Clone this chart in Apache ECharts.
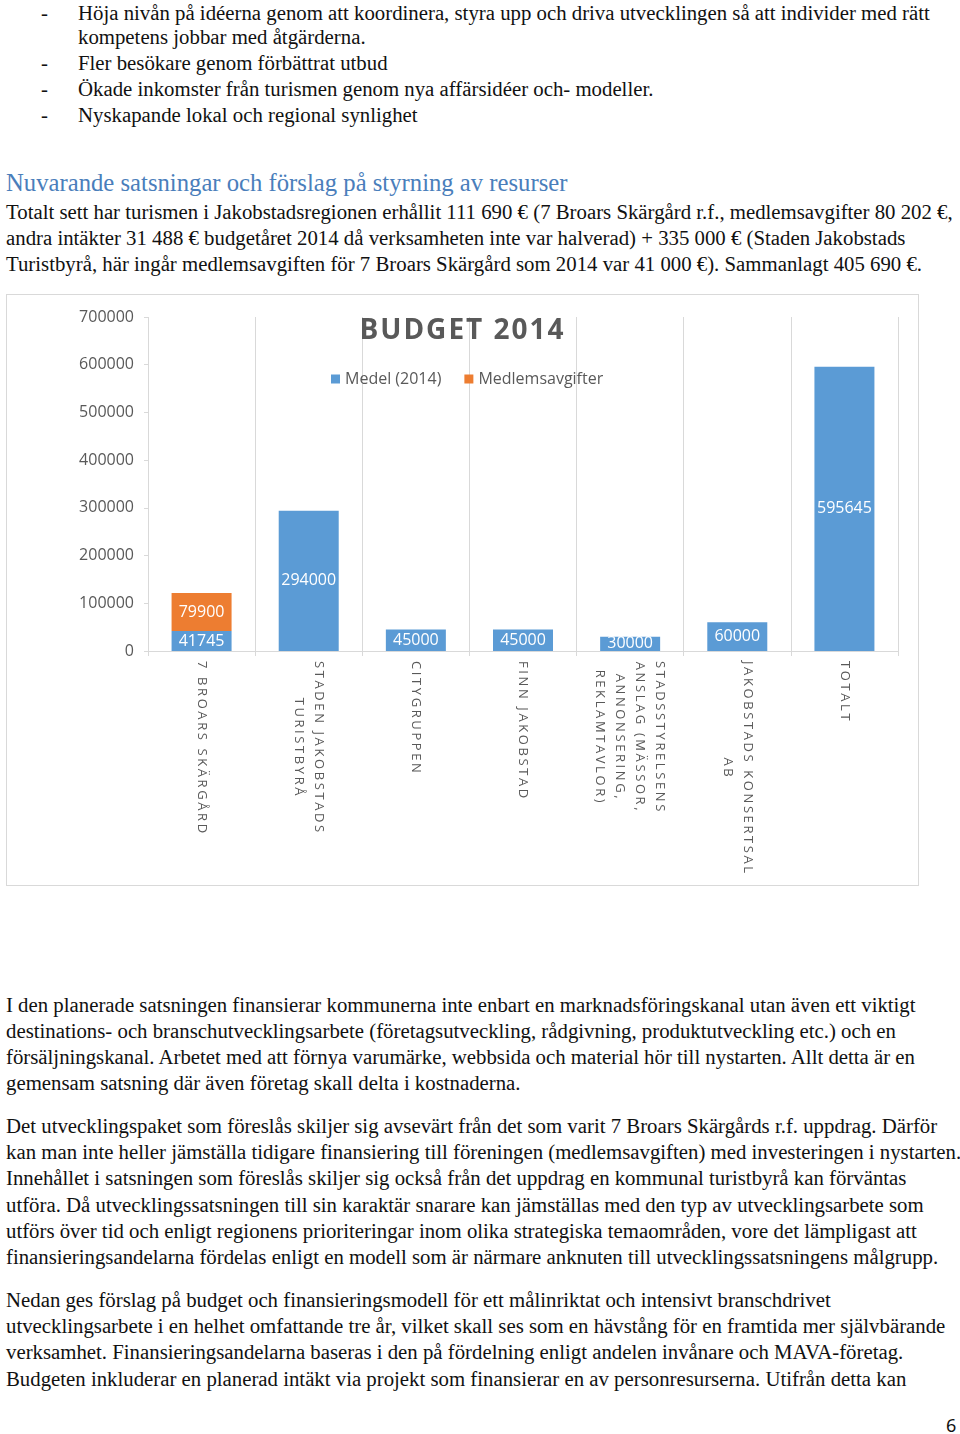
<!DOCTYPE html>
<html>
<head>
<meta charset="utf-8">
<script src="https://cdn.jsdelivr.net/npm/echarts@6/dist/echarts.min.js"></script>
<style>
  html, body { margin: 0; padding: 0; background: #fff; }
  body { width: 960px; height: 1434px; position: relative; overflow: hidden;
         font-family: "Liberation Serif", "DejaVu Serif", serif; color: #111; }
  .ln { position: absolute; height: 26px; line-height: 26px; font-size: 20.8px; white-space: nowrap; }
  .h { font-size: 24.7px; color: #4a7ebb; height: 30px; line-height: 30px; }
  .pg { font-family: "Noto Sans", sans-serif; font-size: 18px; }
  #chart { position: absolute; left: 6px; top: 294px; width: 913px; height: 592px;
           box-sizing: border-box; border: 1px solid #d9d9d9; }
</style>
</head>
<body>
<div class="ln" style="left:41px;top:0px">-</div>
<div class="ln" style="left:78px;top:0px">Höja nivån på idéerna genom att koordinera, styra upp och driva utvecklingen så att individer med rätt</div>
<div class="ln" style="left:78px;top:24px">kompetens jobbar med åtgärderna.</div>
<div class="ln" style="left:41px;top:50px">-</div>
<div class="ln" style="left:78px;top:50px">Fler besökare genom förbättrat utbud</div>
<div class="ln" style="left:41px;top:76px">-</div>
<div class="ln" style="left:78px;top:76px">Ökade inkomster från turismen genom nya affärsidéer och- modeller.</div>
<div class="ln" style="left:41px;top:102px">-</div>
<div class="ln" style="left:78px;top:102px">Nyskapande lokal och regional synlighet</div>

<div class="ln h" style="left:6px;top:168px">Nuvarande satsningar och förslag på styrning av resurser</div>
<div class="ln" style="left:6px;top:199px">Totalt sett har turismen i Jakobstadsregionen erhållit 111 690 € (7 Broars Skärgård r.f., medlemsavgifter 80 202 €,</div>
<div class="ln" style="left:6px;top:225px">andra intäkter 31 488 € budgetåret 2014 då verksamheten inte var halverad) + 335 000 € (Staden Jakobstads</div>
<div class="ln" style="left:6px;top:251px">Turistbyrå, här ingår medlemsavgiften för 7 Broars Skärgård som 2014 var 41 000 €). Sammanlagt 405 690 €.</div>

<div id="chart"></div>

<div class="ln" style="left:6px;top:992px">I den planerade satsningen finansierar kommunerna inte enbart en marknadsföringskanal utan även ett viktigt</div>
<div class="ln" style="left:6px;top:1018px">destinations- och branschutvecklingsarbete (företagsutveckling, rådgivning, produktutveckling etc.) och en</div>
<div class="ln" style="left:6px;top:1044px">försäljningskanal. Arbetet med att förnya varumärke, webbsida och material hör till nystarten. Allt detta är en</div>
<div class="ln" style="left:6px;top:1070px">gemensam satsning där även företag skall delta i kostnaderna.</div>

<div class="ln" style="left:6px;top:1113px">Det utvecklingspaket som föreslås skiljer sig avsevärt från det som varit 7 Broars Skärgårds r.f. uppdrag. Därför</div>
<div class="ln" style="left:6px;top:1139px">kan man inte heller jämställa tidigare finansiering till föreningen (medlemsavgiften) med investeringen i nystarten.</div>
<div class="ln" style="left:6px;top:1165px">Innehållet i satsningen som föreslås skiljer sig också från det uppdrag en kommunal turistbyrå kan förväntas</div>
<div class="ln" style="left:6px;top:1192px">utföra. Då utvecklingssatsningen till sin karaktär snarare kan jämställas med den typ av utvecklingsarbete som</div>
<div class="ln" style="left:6px;top:1218px">utförs över tid och enligt regionens prioriteringar inom olika strategiska temaområden, vore det lämpligast att</div>
<div class="ln" style="left:6px;top:1244px">finansieringsandelarna fördelas enligt en modell som är närmare anknuten till utvecklingssatsningens målgrupp.</div>

<div class="ln" style="left:6px;top:1287px">Nedan ges förslag på budget och finansieringsmodell för ett målinriktat och intensivt branschdrivet</div>
<div class="ln" style="left:6px;top:1313px">utvecklingsarbete i en helhet omfattande tre år, vilket skall ses som en hävstång för en framtida mer självbärande</div>
<div class="ln" style="left:6px;top:1339px">verksamhet. Finansieringsandelarna baseras i den på fördelning enligt andelen invånare och MAVA-företag.</div>
<div class="ln" style="left:6px;top:1366px">Budgeten inkluderar en planerad intäkt via projekt som finansierar en av personresurserna. Utifrån detta kan</div>

<div class="ln pg" style="left:946px;top:1412px">6</div>

<script>
const categories = [
  '7 BROARS SKÄRGÅRD',
  'STADEN JAKOBSTADS\nTURISTBYRÅ',
  'CITYGRUPPEN',
  'FINN JAKOBSTAD',
  'STADSSTYRELSENS\nANSLAG (MÄSSOR,\nANNONSERING,\nREKLAMTAVLOR)',
  'JAKOBSTADS KONSERTSAL\nAB',
  'TOTALT'
];
const medel2014 = [41745, 294000, 45000, 45000, 30000, 60000, 595645];
const medlemsavgifter = [79900, null, null, null, null, null, null];
const yTicks = { min: 0, max: 700000, interval: 100000 };

// letter spacing for the chart's spaced texts (title, category labels),
// applied both when drawing and when measuring so the layout stays consistent
const SPACING = { lsx: '2.6px', lst: '2px' };
function spacingFor(font) {
  for (const k in SPACING) if (font && font.indexOf(k) >= 0) return SPACING[k];
  return '0px';
}
[window.CanvasRenderingContext2D, window.OffscreenCanvasRenderingContext2D].forEach(C => {
  if (!C) return;
  ['fillText', 'strokeText', 'measureText'].forEach(fn => {
    const orig = C.prototype[fn];
    C.prototype[fn] = function () {
      const prev = this.letterSpacing;
      this.letterSpacing = spacingFor(this.font);
      const r = orig.apply(this, arguments);
      this.letterSpacing = prev;
      return r;
    };
  });
});

const gray = '#595959';
const chart = echarts.init(document.getElementById('chart'), null, { renderer: 'canvas' });
chart.setOption({
  animation: false,
  textStyle: { fontFamily: '"Open Sans", sans-serif' },
  title: {
    text: 'BUDGET 2014',
    left: 'center',
    top: 16,
    textStyle: { fontSize: 28, fontWeight: 'bold', color: gray, fontFamily: '"Open Sans", lst, sans-serif' }
  },
  legend: {
    top: 71,
    left: 319,
    itemWidth: 9,
    itemHeight: 9,
    itemGap: 23,
    icon: 'rect',
    textStyle: { fontSize: 16, color: gray },
    data: ['Medel (2014)', 'Medlemsavgifter']
  },
  grid: { left: 141, top: 22, width: 750, height: 334, containLabel: false },
  xAxis: {
    type: 'category',
    data: categories,
    axisLine: { lineStyle: { color: '#d9d9d9' } },
    axisTick: { show: true, length: 5, lineStyle: { color: '#d9d9d9' } },
    splitLine: { show: true, lineStyle: { color: '#d9d9d9' } },
    axisLabel: {
      rotate: -90,
      interval: 0,
      margin: 10,
      color: gray,
      fontSize: 13,
      lineHeight: 20,
      fontFamily: '"Open Sans", lsx, sans-serif',
      formatter: v => v.split('\n').map(s => '{c|' + s + '}').join('\n'),
      rich: { c: { align: 'center', fontSize: 13, lineHeight: 20, color: gray, fontFamily: '"Open Sans", lsx, sans-serif' } }
    }
  },
  yAxis: {
    type: 'value',
    min: yTicks.min, max: yTicks.max, interval: yTicks.interval,
    axisLine: { show: false },
    axisTick: { show: true, length: 4, lineStyle: { color: '#d9d9d9' } },
    splitLine: { show: false },
    axisLabel: { color: gray, fontSize: 16, margin: 14, formatter: v => String(v) }
  },
  series: [
    {
      name: 'Medel (2014)', type: 'bar', stack: 'a', barWidth: '56%',
      data: medel2014,
      itemStyle: { color: '#5b9bd5' },
      label: { show: true, position: 'inside', color: '#fff', fontSize: 16 }
    },
    {
      name: 'Medlemsavgifter', type: 'bar', stack: 'a', barWidth: '56%',
      data: medlemsavgifter,
      itemStyle: { color: '#ed7d31' },
      label: { show: true, position: 'inside', color: '#fff', fontSize: 16 }
    }
  ]
});
</script>
</body>
</html>
